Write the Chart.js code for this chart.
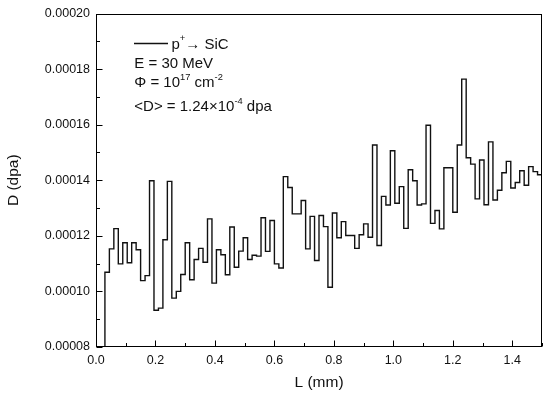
<!DOCTYPE html>
<html><head><meta charset="utf-8">
<script src="https://cdn.jsdelivr.net/npm/chart.js@4.4.1/dist/chart.umd.min.js"></script>
<style>html,body{margin:0;padding:0;background:#fff}#wrap{width:550px;height:396px}</style>
</head><body><div id="wrap"><canvas id="c" width="550" height="396"></canvas></div>
<script>
// Left edges of the 0.015 mm depth bins (mm)
const binStartMm = [0,0.015,0.03,0.045,0.06,0.075,0.09,0.105,0.12,0.135,0.15,0.165,0.18,0.195,0.21,0.225,0.24,0.255,0.27,0.285,
0.3,0.315,0.33,0.345,0.36,0.375,0.39,0.405,0.42,0.435,0.45,0.465,0.48,0.495,0.51,0.525,0.54,0.555,0.57,0.585,
0.6,0.615,0.63,0.645,0.66,0.675,0.69,0.705,0.72,0.735,0.75,0.765,0.78,0.795,0.81,0.825,0.84,0.855,0.87,0.885,
0.9,0.915,0.93,0.945,0.96,0.975,0.99,1.005,1.02,1.035,1.05,1.065,1.08,1.095,1.11,1.125,1.14,1.155,1.17,1.185,
1.2,1.215,1.23,1.245,1.26,1.275,1.29,1.305,1.32,1.335,1.35,1.365,1.38,1.395,1.41,1.425,1.44,1.455,1.47,1.485];
const lastBinEndMm = 1.5;
// Damage per bin (dpa)
const damageDpa = [0.0000700,0.0000700,0.0001069,0.0001153,0.0001226,0.0001099,0.0001175,0.0001103,0.0001175,0.0001150,
0.0001039,0.0001057,0.0001398,0.0000932,0.0000940,0.0001186,0.0001396,0.0000976,0.0001000,0.0001061,
0.0001175,0.0001042,0.0001115,0.0001155,0.0001105,0.0001261,0.0001030,0.0001150,0.0001132,0.0001060,
0.0001232,0.0001087,0.0001145,0.0001193,0.0001115,0.0001130,0.0001127,0.0001265,0.0001144,0.0001255,
0.0001099,0.0001084,0.0001413,0.0001374,0.0001279,0.0001279,0.0001327,0.0001153,0.0001270,0.0001111,
0.0001273,0.0001233,0.0001015,0.0001282,0.0001193,0.0001251,0.0001201,0.0001201,0.0001155,0.0001204,
0.0001243,0.0001195,0.0001527,0.0001165,0.0001342,0.0001311,0.0001506,0.0001317,0.0001377,0.0001227,
0.0001438,0.0001398,0.0001311,0.0001315,0.0001598,0.0001245,0.0001291,0.0001225,0.0001445,0.0001445,
0.0001285,0.0001527,0.0001764,0.0001481,0.0001458,0.0001333,0.0001473,0.0001312,0.0001538,0.0001329,
0.0001364,0.0001427,0.0001468,0.0001372,0.0001392,0.0001434,0.0001382,0.0001449,0.0001431,0.0001420];
const xMajorTickLabels = ['0.0','0.2','0.4','0.6','0.8','1.0','1.2','1.4'];
const yMajorTickLabels = ['0.00008','0.00010','0.00012','0.00014','0.00016','0.00018','0.00020'];
const xTitle = 'L (mm)';
const yTitle = 'D (dpa)';
const seriesLabel = ['p', '+', '\u2192 SiC'];
const noteLines = [
  [{t:'E = 30 MeV'}],
  [{t:'\u03A6 = 10'},{t:'17',sup:true},{t:' cm'},{t:'-2',sup:true}],
  [{t:'<D> = 1.24\u00D710'},{t:'-4',sup:true},{t:' dpa'}]
];

const FONT = "'Liberation Sans', Arial, Helvetica, sans-serif";
Chart.defaults.font.family = FONT;
Chart.defaults.color = '#111';

const pts = binStartMm.map((x,i)=>({x:x, y:damageDpa[i]}));
pts.push({x:lastBinEndMm, y:damageDpa[damageDpa.length-1]});

function isMajorX(v){ return xMajorTickLabels.indexOf(v.toFixed(1)) >= 0; }
function isMajorY(v){ return yMajorTickLabels.indexOf(v.toFixed(5)) >= 0; }

function drawRich(ctx, x, base, parts, size){
  let cx = x;
  parts.forEach(p=>{
    if(p.sup){ ctx.font = (size*0.62)+'px '+FONT; ctx.fillText(p.t, cx, base - size*0.47); }
    else { ctx.font = size+'px '+FONT; ctx.fillText(p.t, cx, base); }
    cx += ctx.measureText(p.t).width;
  });
}

const frameAndNotes = {
  id:'frameAndNotes',
  afterDraw(chart){
    const {ctx, chartArea:a, scales:{x,y}} = chart;
    ctx.save();
    ctx.strokeStyle = '#000'; ctx.lineWidth = 1;
    const L = Math.round(a.left)+0.5, R = Math.round(a.right)-0.5, T = Math.round(a.top)+0.5, B = Math.round(a.bottom)-0.5;
    ctx.beginPath();
    x.ticks.forEach(t=>{
      const px = Math.round(x.getPixelForValue(t.value))+0.5;
      const len = isMajorX(t.value) ? 6 : 3.5;
      ctx.moveTo(px, B); ctx.lineTo(px, B-len);
    });
    y.ticks.forEach(t=>{
      const py = Math.round(y.getPixelForValue(t.value))+0.5;
      const len = isMajorY(t.value) ? 6 : 3.5;
      ctx.moveTo(L, py); ctx.lineTo(L+len, py);
    });
    ctx.stroke();
    ctx.strokeRect(L, T, R-L, B-T);
    // legend sample + notes
    ctx.lineWidth = 1.3; ctx.strokeStyle = '#111';
    ctx.beginPath(); ctx.moveTo(134, 43.5); ctx.lineTo(168, 43.5); ctx.stroke();
    ctx.fillStyle = '#111'; ctx.textBaseline = 'alphabetic'; ctx.textAlign = 'left';
    drawRich(ctx, 171.5, 48.5, [{t:seriesLabel[0]},{t:seriesLabel[1],sup:true},{t:seriesLabel[2]}], 15);
    const bases = [68, 87, 111];
    noteLines.forEach((ln,i)=>drawRich(ctx, 134.3, bases[i], ln, 15));
    ctx.restore();
  }
};

new Chart(document.getElementById('c'), {
  type:'line',
  data:{datasets:[{data:pts, stepped:'before', borderColor:'#111', borderWidth:1.4, pointRadius:0, fill:false, tension:0}]},
  options:{
    responsive:false, animation:false, devicePixelRatio:1,
    layout:{padding:{left:0, right:8, top:12, bottom:0}},
    plugins:{legend:{display:false}, tooltip:{enabled:false}},
    scales:{
      x:{type:'linear', min:0, max:1.5,
        grid:{display:false, drawTicks:false}, border:{display:false},
        ticks:{stepSize:0.1, padding:6, autoSkip:false, maxRotation:0, font:{size:12.5}, color:'#111',
          callback:(v)=> isMajorX(v) ? v.toFixed(1) : ''},
        title:{display:true, text:xTitle, font:{size:15.5}, color:'#111', padding:{top:0,bottom:4}},
        afterFit:(s)=>{ s.height = 49; }
      },
      y:{type:'linear', min:0.00008, max:0.0002,
        grid:{display:false, drawTicks:false}, border:{display:false},
        ticks:{stepSize:0.00001, padding:6, autoSkip:false, font:{size:12.5}, color:'#111',
          callback:(v)=> isMajorY(v) ? v.toFixed(5) : ''},
        title:{display:true, text:yTitle, font:{size:15.5}, color:'#111', padding:{top:4,bottom:0}},
        afterFit:(s)=>{ s.width = 96; }
      }
    }
  },
  plugins:[frameAndNotes]
});
</script></body></html>
